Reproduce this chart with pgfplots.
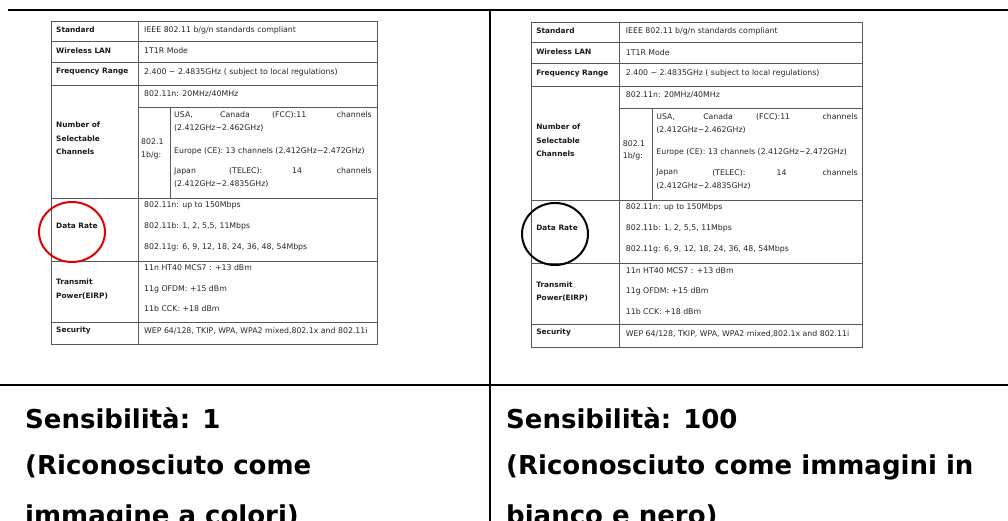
\documentclass[border=0pt]{standalone}
\usepackage{pgfplots}
\pgfplotsset{compat=1.18}
\usepackage{fontspec}
\setmainfont{DejaVu Sans}
\tikzset{
 tline/.style={draw=black!65, line width=0.8pt},
 frame/.style={draw=black, line width=2pt},
 tb/.style={anchor=west, inner sep=0pt, font=\fontsize{7.4}{8}\selectfont\bfseries, text=black!90},
 tx/.style={anchor=west, inner sep=0pt, font=\fontsize{7.8}{8}\selectfont, text=black!85},
 txe/.style={anchor=east, inner sep=0pt, font=\fontsize{7.8}{8}\selectfont, text=black!85},
 big/.style={anchor=base west, inner sep=0pt, font=\fontsize{26}{30}\selectfont\bfseries, text=black},
}
% #1 x0, #2 y0, #3 x scale, #4 y scale
\newcommand{\spectable}[4]{%
 \draw[tline] (axis cs:#1,#2) rectangle (axis cs:{#1+#3*326},{#2+#4*323});
 \draw[tline] (axis cs:#1,{#2+#4*20}) -- (axis cs:{#1+#3*326},{#2+#4*20});
 \draw[tline] (axis cs:#1,{#2+#4*41}) -- (axis cs:{#1+#3*326},{#2+#4*41});
 \draw[tline] (axis cs:#1,{#2+#4*64}) -- (axis cs:{#1+#3*326},{#2+#4*64});
 \draw[tline] (axis cs:#1,{#2+#4*177}) -- (axis cs:{#1+#3*326},{#2+#4*177});
 \draw[tline] (axis cs:#1,{#2+#4*240}) -- (axis cs:{#1+#3*326},{#2+#4*240});
 \draw[tline] (axis cs:#1,{#2+#4*301}) -- (axis cs:{#1+#3*326},{#2+#4*301});
 \draw[tline] (axis cs:{#1+#3*87},{#2+#4*86}) -- (axis cs:{#1+#3*326},{#2+#4*86});
 \draw[tline] (axis cs:{#1+#3*87},#2) -- (axis cs:{#1+#3*87},{#2+#4*323});
 \draw[tline] (axis cs:{#1+#3*119},{#2+#4*86}) -- (axis cs:{#1+#3*119},{#2+#4*177});
 % left column
 \node[tb] at (axis cs:{#1+#3*5},{#2+#4*9}) {Standard};
 \node[tb] at (axis cs:{#1+#3*5},{#2+#4*30}) {Wireless LAN};
 \node[tb] at (axis cs:{#1+#3*5},{#2+#4*51}) {Frequency Range};
 \node[tb] at (axis cs:{#1+#3*5},{#2+#4*104}) {Number of};
 \node[tb] at (axis cs:{#1+#3*5},{#2+#4*118}) {Selectable};
 \node[tb] at (axis cs:{#1+#3*5},{#2+#4*131}) {Channels};
 \node[tb] at (axis cs:{#1+#3*5},{#2+#4*205}) {Data Rate};
 \node[tb] at (axis cs:{#1+#3*5},{#2+#4*261}) {Transmit};
 \node[tb] at (axis cs:{#1+#3*5},{#2+#4*275}) {Power(EIRP)};
 \node[tb] at (axis cs:{#1+#3*5},{#2+#4*309}) {Security};
 % right column
 \node[tx] at (axis cs:{#1+#3*93},{#2+#4*9}) {IEEE 802.11 b/g/n standards compliant};
 \node[tx] at (axis cs:{#1+#3*93},{#2+#4*30}) {1T1R Mode};
 \node[tx] at (axis cs:{#1+#3*93},{#2+#4*51}) {2.400 \textasciitilde\ 2.4835GHz ( subject to local regulations)};
 \node[tx] at (axis cs:{#1+#3*93},{#2+#4*73}) {802.11n: 20MHz/40MHz};
 \node[tx] at (axis cs:{#1+#3*90},{#2+#4*121}) {802.1};
 \node[tx] at (axis cs:{#1+#3*90},{#2+#4*134}) {1b/g:};
 \node[tx] at (axis cs:{#1+#3*123},{#2+#4*94}) {USA,};
 \node[tx] at (axis cs:{#1+#3*169},{#2+#4*94}) {Canada};
 \node[tx] at (axis cs:{#1+#3*221},{#2+#4*94}) {(FCC):11};
 \node[txe] at (axis cs:{#1+#3*321},{#2+#4*94}) {channels};
 \node[tx] at (axis cs:{#1+#3*123},{#2+#4*107}) {(2.412GHz\textasciitilde 2.462GHz)};
 \node[tx] at (axis cs:{#1+#3*123},{#2+#4*130}) {Europe (CE): 13 channels (2.412GHz\textasciitilde 2.472GHz)};
 \node[tx] at (axis cs:{#1+#3*123},{#2+#4*150}) {Japan};
 \node[tx] at (axis cs:{#1+#3*178},{#2+#4*150}) {(TELEC):};
 \node[tx] at (axis cs:{#1+#3*241},{#2+#4*150}) {14};
 \node[txe] at (axis cs:{#1+#3*321},{#2+#4*150}) {channels};
 \node[tx] at (axis cs:{#1+#3*123},{#2+#4*163}) {(2.412GHz\textasciitilde 2.4835GHz)};
 \node[tx] at (axis cs:{#1+#3*93},{#2+#4*184}) {802.11n: up to 150Mbps};
 \node[tx] at (axis cs:{#1+#3*93},{#2+#4*205}) {802.11b: 1, 2, 5,5, 11Mbps};
 \node[tx] at (axis cs:{#1+#3*93},{#2+#4*226}) {802.11g: 6, 9, 12, 18, 24, 36, 48, 54Mbps};
 \node[tx] at (axis cs:{#1+#3*93},{#2+#4*247}) {11n HT40 MCS7 : +13 dBm};
 \node[tx] at (axis cs:{#1+#3*93},{#2+#4*268}) {11g OFDM: +15 dBm};
 \node[tx] at (axis cs:{#1+#3*93},{#2+#4*288}) {11b CCK: +18 dBm};
 \node[tx] at (axis cs:{#1+#3*93},{#2+#4*310}) {WEP 64/128, TKIP, WPA, WPA2 mixed,802.1x and 802.11i};
}
\begin{document}
\begin{tikzpicture}
\begin{axis}[
 width=1008pt, height=521pt, scale only axis,
 xmin=0, xmax=1008, ymin=0, ymax=521, y dir=reverse,
 axis lines=none, ticks=none, clip=false,
]
% frame
\draw[frame] (axis cs:8,10) -- (axis cs:1008,10);
\draw[frame] (axis cs:0,385) -- (axis cs:1008,385);
\draw[frame] (axis cs:490,10) -- (axis cs:490,521);
% tables
\spectable{51}{21}{1}{1}
\spectable{531}{22}{1.018}{1.006}
% circles
\draw[red!90!black, line width=2pt] (axis cs:72,232) ellipse [x radius=33, y radius=30];
\draw[black, line width=2pt] (axis cs:555,234) ellipse [x radius=33, y radius=31];
% captions
\node[big] at (axis cs:25,428) {Sensibilità: 1};
\node[big] at (axis cs:25,474) {(Riconosciuto come};
\node[big] at (axis cs:25,524) {immagine a colori)};
\node[big] at (axis cs:506,428) {Sensibilità: 100};
\node[big] at (axis cs:506,474) {(Riconosciuto come immagini in};
\node[big] at (axis cs:506,524) {bianco e nero)};
\end{axis}
\pgfresetboundingbox
\path[use as bounding box] (current axis.south west) rectangle (current axis.north east);
\end{tikzpicture}
\end{document}
